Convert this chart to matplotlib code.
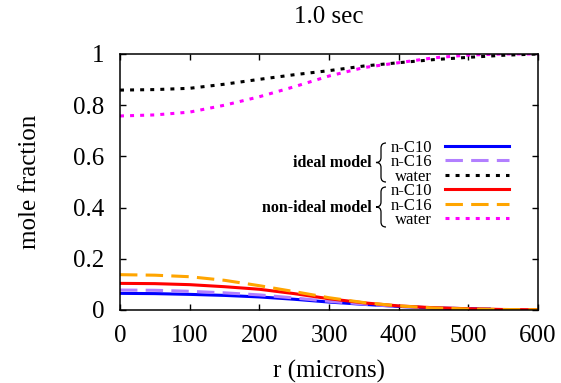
import matplotlib.pyplot as plt
from matplotlib.path import Path
from matplotlib.patches import PathPatch

plt.rcParams['font.family'] = ['Liberation Serif', 'DejaVu Serif']

# radial positions (microns)
r = [0, 50, 100, 150, 200, 250, 300, 350, 400, 450, 500, 550, 600]
r_ideal = [0, 50, 100, 150, 200, 250, 300, 350, 400, 450, 500, 530]

# ideal model
ideal_c10 = [0.065, 0.064, 0.061, 0.057, 0.051, 0.042, 0.031, 0.022, 0.014, 0.008, 0.005, 0.004]
ideal_c16 = [0.078, 0.077, 0.073, 0.067, 0.059, 0.047, 0.034, 0.023, 0.014, 0.008, 0.005, 0.004]
ideal_water = [0.859, 0.861, 0.866, 0.882, 0.901, 0.919, 0.935, 0.953, 0.966, 0.978, 0.987, 0.995, 1.0]

# non-ideal model
nonideal_c10 = [0.104, 0.103, 0.099, 0.091, 0.081, 0.064, 0.044, 0.028, 0.016, 0.009, 0.005, 0.002, 0.001]
nonideal_c16 = [0.138, 0.136, 0.130, 0.116, 0.095, 0.072, 0.048, 0.029, 0.016, 0.008, 0.004, 0.002, 0.001]
nonideal_water = [0.758, 0.762, 0.773, 0.800, 0.833, 0.872, 0.914, 0.947, 0.966, 0.985, 0.996, 1.0, 1.0]

series_labels = ['n-C10', 'n-C16', 'water', 'n-C10', 'n-C16', 'water']
group_labels = ['ideal model', 'non-ideal model']

xticks = [0, 100, 200, 300, 400, 500, 600]
yticks = [0, 0.2, 0.4, 0.6, 0.8, 1.0]
ytick_labels = ['0', '0.2', '0.4', '0.6', '0.8', '1']

W, H = 561, 383
fig = plt.figure(figsize=(W / 100, H / 100), dpi=100)
ax = fig.add_axes([120 / W, 1 - 310 / H, 418 / W, 256 / H])

lw = 2.2
dash = (0, (5.7, 2.7))
dot = (0, (1.3, 2.0))

l1, = ax.plot(r_ideal, ideal_c10, color='#0000ff', lw=lw, ls='-')
l2, = ax.plot(r_ideal, ideal_c16, color='#b27fff', lw=lw, ls=dash)
l3, = ax.plot(r, ideal_water, color='black', lw=lw, ls=dot)
l4, = ax.plot(r, nonideal_c10, color='#ff0000', lw=lw, ls='-')
l5, = ax.plot(r, nonideal_c16, color='#ffa500', lw=lw, ls=dash)
l6, = ax.plot(r, nonideal_water, color='#ff00ff', lw=lw, ls=dot)
for ln in (l1, l2, l3, l4, l5, l6):
    ln.set_dash_capstyle('butt')

ax.set_xlim(0, 600)
ax.set_ylim(0, 1)
ax.set_xticks(xticks)
ax.set_yticks(yticks)
ax.set_yticklabels(ytick_labels)
ax.tick_params(direction='in', length=4, width=1, top=True, right=True,
               labelsize=18, pad=11)
for s in ax.spines.values():
    s.set_linewidth(1.1)

ax.set_xlabel('r (microns)', fontsize=18)
ax.xaxis.set_label_coords(0.5, -0.196)
ax.set_ylabel('mole fraction', fontsize=18)
ax.yaxis.set_label_coords(-0.19, 0.5)
ax.set_title('1.0 sec', fontsize=18, y=1.145, va='center', pad=0)

leg = ax.legend([l1, l2, l3, l4, l5, l6], series_labels,
                loc='center right', bbox_to_anchor=(0.931, 0.493),
                frameon=False, markerfirst=False, fontsize=12,
                handlelength=3.85, handletextpad=0.78, labelspacing=-0.09,
                borderpad=0, borderaxespad=0)


def brace(x, y0, y1, w=5.0):
    # curly brace in pixel coordinates (origin top-left)
    ym = (y0 + y1) / 2
    pts = [(x + w, y0), (x, y0), (x, y0 + w),
           (x, ym - w), (x, ym), (x - w, ym),
           (x, ym), (x, ym + w),
           (x, y1 - w), (x, y1), (x + w, y1)]
    codes = [Path.MOVETO, Path.CURVE3, Path.CURVE3,
             Path.LINETO, Path.CURVE3, Path.CURVE3,
             Path.CURVE3, Path.CURVE3,
             Path.LINETO, Path.CURVE3, Path.CURVE3]
    pts = [(px / W, 1 - py / H) for px, py in pts]
    fig.patches.append(PathPatch(Path(pts, codes), transform=fig.transFigure,
                                 fill=False, lw=0.9, color='black'))


fig.text(372 / W, 1 - 163 / H, group_labels[0], ha='right', va='center',
         fontsize=11.5, fontweight='bold')
fig.text(372 / W, 1 - 208 / H, group_labels[1], ha='right', va='center',
         fontsize=11.5, fontweight='bold')
brace(381, 143, 182)
brace(381, 187, 227)

fig.savefig('out.png', dpi=100)
